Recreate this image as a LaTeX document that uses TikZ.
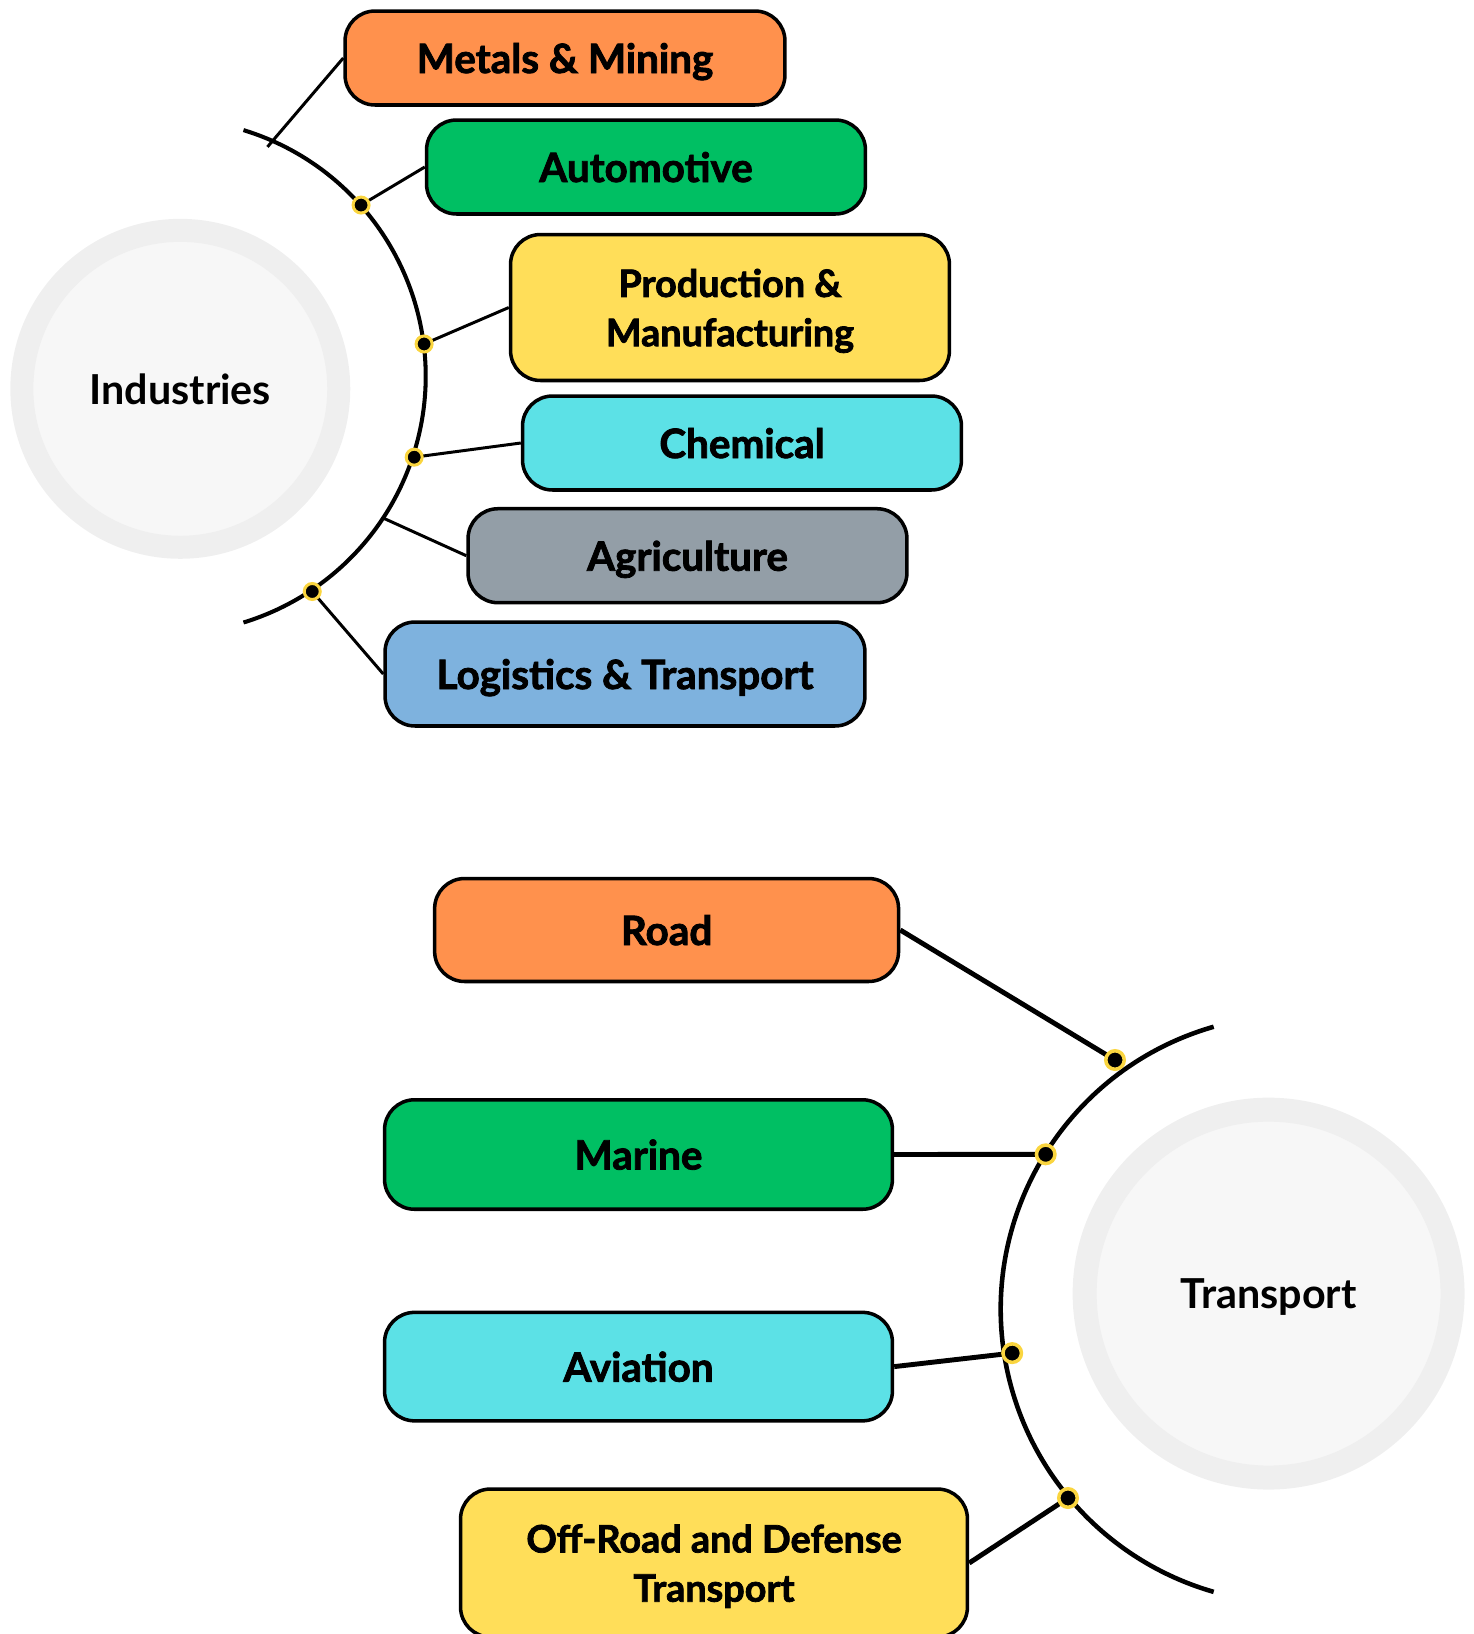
\documentclass[tikz,border=0pt]{standalone}
\usepackage{fontspec}
\setmainfont{Lato}
\newfontfamily\heavyfont{Lato}[BoldFeatures={FakeBold=2}]
\usepackage{tikz}

\definecolor{boxorange}{HTML}{FF914D}
\definecolor{boxgreen}{HTML}{00BF63}
\definecolor{boxyellow}{HTML}{FFDE59}
\definecolor{boxcyan}{HTML}{5CE1E6}
\definecolor{boxgray}{HTML}{939EA7}
\definecolor{boxblue}{HTML}{7EB2DE}
\definecolor{ringgray}{HTML}{EFEFEF}
\definecolor{hubfill}{HTML}{F7F7F7}
\definecolor{dotyellow}{HTML}{FAD53F}

\tikzset{
  catbox/.style={draw=black, line width=2pt, rounded corners=0.6cm, inner sep=0pt,
    minimum width=8.78cm, minimum height=1.88cm, align=center, text depth=0pt,
    font=\heavyfont\bfseries\fontsize{23}{28}\selectfont},
  twoline/.style={font=\heavyfont\bfseries\fontsize{21.5}{28}\selectfont},
  hub/.style={circle, draw=ringgray, fill=hubfill, inner sep=0pt, text depth=0pt,
    font=\bfseries\fontsize{23.5}{28}\selectfont},
  joint/.style={circle, fill=black, draw=dotyellow, line width=1.7pt,
    minimum size=0.32cm, inner sep=0pt},
  link/.style={line width=1.7pt},
  rim/.style={line width=2.3pt},
}

\begin{document}
\begin{tikzpicture}[x=0.02cm,y=0.02cm]
    \useasboundingbox (0,0) rectangle (1474,-1634);

    % Industries
    \node[hub, line width=0.46cm, minimum size=6.34cm] (industries) at (180.3,-388.8) {Industries};
    \coordinate (arcI) at (168.2,-376.3);
    \draw[rim] (arcI) ++(73:5.15cm) arc[start angle=73, end angle=-73, radius=5.15cm];
    \path (arcI) ++(66.6:5.0cm) coordinate (tMetals)
          (arcI) ++(41.6:5.16cm) coordinate (jAuto)
          (arcI) ++(7.2:5.16cm) coordinate (jProd)
          (arcI) ++(-18.2:5.18cm) coordinate (jChem)
          (arcI) ++(-33.4:5.15cm) coordinate (tAgri)
          (arcI) ++(-56.2:5.18cm) coordinate (jLogi);

    \node[catbox, fill=boxorange, minimum width=8.8cm] (metals) at (565,-58) {Metals \& Mining};
    \node[catbox, fill=boxgreen] (auto) at (646,-167) {Automotive};
    \node[catbox, twoline, fill=boxyellow, minimum height=2.92cm] (prod) at (730,-307.5) {Production \&\\Manufacturing};
    \node[catbox, fill=boxcyan] (chem) at (742,-443) {Chemical};
    \node[catbox, fill=boxgray] (agri) at (687.5,-555.7) {Agriculture};
    \node[catbox, fill=boxblue, minimum width=9.6cm, minimum height=2.08cm] (logi) at (625,-674) {Logistics \& Transport};

    \draw[link] (metals.west) -- (tMetals);
    \draw[link] (auto.west) -- (jAuto);
    \draw[link] (prod.west) -- (jProd);
    \draw[link] (chem.west) -- (jChem);
    \draw[link] (agri.west) -- (tAgri);
    \draw[link] (logi.west) -- (jLogi);
    \foreach \j in {jAuto,jProd,jChem,jLogi}
      \node[joint] at (\j) {};

    % Transport
    \node[hub, line width=0.48cm, minimum size=7.36cm] (transport) at (1268.6,-1293.6) {Transport};
    \coordinate (arcT) at (1294.7,-1309.3);
    \draw[rim, line width=2.6pt] (arcT) ++(106:5.88cm) arc[start angle=106, end angle=254, radius=5.88cm];
    \coordinate (jRoad) at (1115,-1060);
    \coordinate (jMarine) at (1045.7,-1154.3);
    \coordinate (jAvia) at (1012.2,-1353.1);
    \coordinate (jOff) at (1068,-1498);

    \node[catbox, fill=boxorange, minimum width=9.28cm, minimum height=2.06cm] (road) at (666.6,-930) {Road};
    \node[catbox, fill=boxgreen, minimum width=10.16cm, minimum height=2.19cm] (marine) at (638.5,-1154.5) {Marine};
    \node[catbox, fill=boxcyan, minimum width=10.16cm, minimum height=2.17cm] (avia) at (638.5,-1366.6) {Aviation};
    \node[catbox, twoline, fill=boxyellow, minimum width=10.14cm, minimum height=2.96cm] (offroad) at (714,-1563) {Off-Road and Defense\\Transport};

    \draw[link, line width=2.8pt] (road.east) -- (jRoad);
    \draw[link, line width=2.8pt] (marine.east) -- (jMarine);
    \draw[link, line width=2.8pt] (avia.east) -- (jAvia);
    \draw[link, line width=2.8pt] (offroad.east) -- (jOff);
    \foreach \j in {jRoad,jMarine,jAvia,jOff}
      \node[joint, line width=2pt, minimum size=0.37cm] at (\j) {};

  \end{tikzpicture}
\end{document}
